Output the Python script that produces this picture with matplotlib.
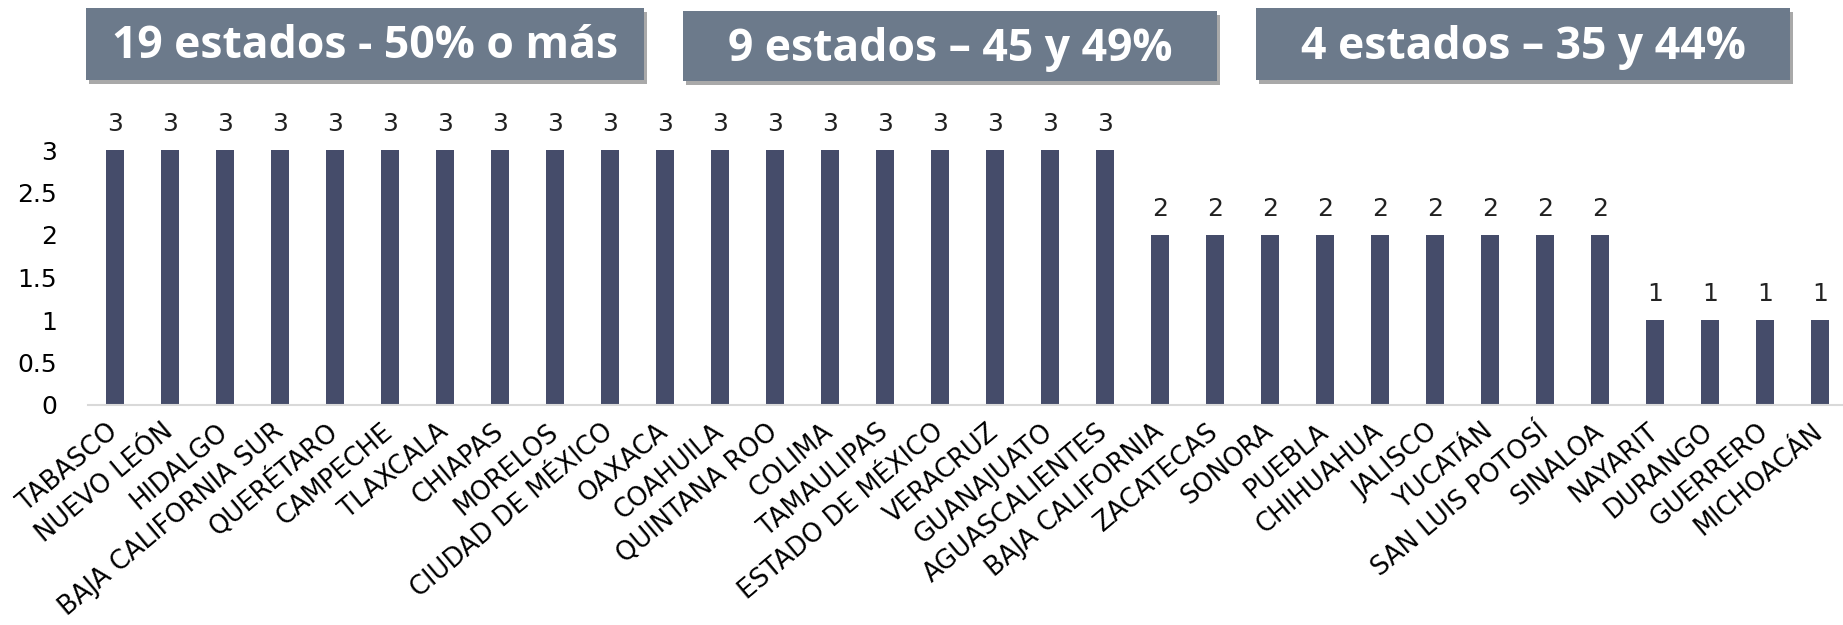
import matplotlib.pyplot as plt
from matplotlib.patches import FancyBboxPatch
import matplotlib.patheffects as pe

estados = ["TABASCO", "NUEVO LEÓN", "HIDALGO", "BAJA CALIFORNIA SUR", "QUERÉTARO",
           "CAMPECHE", "TLAXCALA", "CHIAPAS", "MORELOS", "CIUDAD DE MÉXICO",
           "OAXACA", "COAHUILA", "QUINTANA ROO", "COLIMA", "TAMAULIPAS",
           "ESTADO DE MÉXICO", "VERACRUZ", "GUANAJUATO", "AGUASCALIENTES",
           "BAJA CALIFORNIA", "ZACATECAS", "SONORA", "PUEBLA", "CHIHUAHUA",
           "JALISCO", "YUCATÁN", "SAN LUIS POTOSÍ", "SINALOA",
           "NAYARIT", "DURANGO", "GUERRERO", "MICHOACÁN"]
valores = [3] * 19 + [2] * 9 + [1] * 4
yticks = [0, 0.5, 1, 1.5, 2, 2.5, 3]
grupos = ["19 estados - 50% o más", "9 estados – 45 y 49%", "4 estados – 35 y 44%"]

W, H = 1843, 625
fig = plt.figure(figsize=(W / 100, H / 100), dpi=100)
ax = fig.add_axes([87.5 / W, (H - 405) / H, 1760 / W, 255 / H])

x = range(len(estados))
ax.bar(x, valores, width=0.33, color="#454c6a")
for i, v in zip(x, valores):
    ax.annotate(str(v), (i, v), xytext=(0, 10), textcoords="offset points",
                ha="center", va="bottom", fontsize=18, family="DejaVu Sans", color="#222222")

ax.set_xlim(-0.5, len(estados) - 0.5)
ax.set_ylim(0, 3)
ax.set_yticks(yticks)
ax.set_yticklabels([f"{t:g}" for t in yticks], fontsize=18, family="DejaVu Sans")
ax.set_xticks(list(x))
ax.set_xticklabels(estados, rotation=40, ha="right", va="center",
                   rotation_mode="anchor", fontsize=18.5, family="DejaVu Sans")
ax.tick_params(axis="both", length=0)
ax.tick_params(axis="y", pad=22)
ax.tick_params(axis="x", pad=17)
for s in ["top", "right", "left"]:
    ax.spines[s].set_visible(False)
ax.spines["bottom"].set_color("#d9d9d9")
ax.spines["bottom"].set_linewidth(1.5)

# cajas de encabezado
cajas = [(86, 644, 8, 80), (683, 1217, 11, 81), (1256, 1790, 8, 80)]
for (x0, x1, y0, y1), txt in zip(cajas, grupos):
    box = FancyBboxPatch((x0 / W, 1 - y1 / H), (x1 - x0) / W, (y1 - y0) / H,
                         boxstyle="square,pad=0", transform=fig.transFigure,
                         facecolor="#6c7a8b", edgecolor="none")
    box.set_path_effects([pe.SimplePatchShadow(offset=(2, -3), shadow_rgbFace="#555555", alpha=0.5),
                          pe.Normal()])
    fig.patches.append(box)
    fig.text((x0 + x1) / 2 / W, 1 - ((y0 + y1) / 2 + 3) / H, txt, ha="center", va="center",
             color="white", fontsize=32, fontweight="bold", family="Open Sans")

fig.savefig("out.png", dpi=100)
